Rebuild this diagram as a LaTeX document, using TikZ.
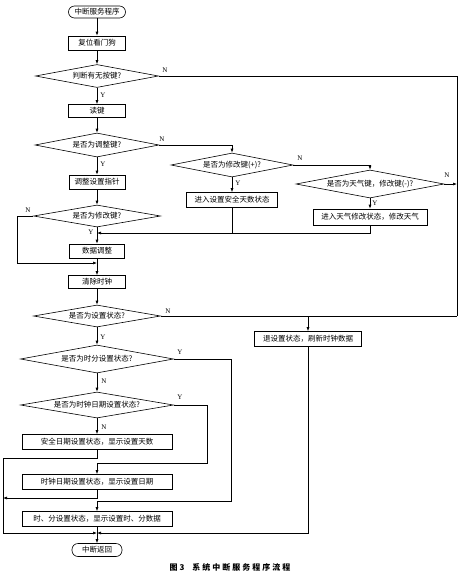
\documentclass[tikz,border=0pt]{standalone}
\usepackage{fontspec}
\setmainfont{Liberation Serif}
\newfontfamily\cjk{Noto Sans CJK SC}
\newfontfamily\capfont{Noto Sans CJK SC}[LetterSpace=25]
\usetikzlibrary{arrows.meta,shapes.geometric}

\begin{document}
\begin{tikzpicture}[x=1pt, y=-1pt, line width=0.6pt, >={Latex[length=4pt,width=3pt]},
	every node/.style={font=\cjk\fontsize{7.5}{9}\selectfont, inner sep=1pt},
	box/.style={draw, rectangle, minimum height=14},
	decide/.style={draw, diamond, aspect=6, inner sep=0pt},
	term/.style={draw, rectangle, rounded corners=6pt, minimum height=12},
	lbl/.style={font=\rmfamily\fontsize{7}{8}\selectfont, inner sep=0pt}]
	\useasboundingbox (0,0) rectangle (460,576);
	% main column
	\node[term, minimum width=57] (start) at (97,12) {中断服务程序};
	\node[box, minimum width=57] (reset) at (97,43) {复位看门狗};
	\node[decide, minimum width=123, minimum height=23] (chk) at (97,76) {判断有无按键?};
	\node[box, minimum width=57, minimum height=13] (read) at (97,111) {读键};
	\node[decide, minimum width=124, minimum height=24] (adj) at (97,145) {是否为调整键?};
	\node[box, minimum width=56] (ptr) at (97,182) {调整设置指针};
	\node[decide, minimum width=127, minimum height=22] (mod) at (97,216) {是否为修改键?};
	\node[box, minimum width=55] (data) at (97,251) {数据调整};
	\node[box, minimum width=57, minimum height=13] (clr) at (97,282) {清除时钟};
	\node[decide, minimum width=127, minimum height=22] (set) at (97,316) {是否为设置状态?};
	\node[decide, minimum width=153, minimum height=28] (hm) at (97,359) {是否为时分设置状态?};
	\node[decide, minimum width=153, minimum height=26] (date) at (97,405) {是否为时钟日期设置状态?};
	\node[box, minimum width=150, minimum height=15] (safe) at (97,442) {安全日期设置状态，显示设置天数};
	\node[box, minimum width=150, minimum height=15] (clock) at (97,482) {时钟日期设置状态，显示设置日期};
	\node[box, minimum width=150, minimum height=15] (hmset) at (97,519) {时、分设置状态，显示设置时、分数据};
	\node[term, minimum width=50, minimum height=13] (ret) at (97,550) {中断返回};
	% right branches
	\node[decide, minimum width=122, minimum height=24] (plus) at (232,165) {是否为修改键(+)?};
	\node[box, minimum width=91, minimum height=15] (safeday) at (232,200) {进入设置安全天数状态};
	\node[decide, minimum width=148, minimum height=28] (wx) at (370,184) {是否为天气键，修改键(-)?};
	\node[box, minimum width=114, minimum height=16] (wxmod) at (370,217) {进入天气修改状态，修改天气};
	\node[box, minimum width=107, minimum height=15] (quit) at (308,339) {退设置状态，刷新时钟数据};
	\node[font=\capfont\bfseries\fontsize{8}{9}\selectfont] (cap) at (230,567) {图3\quad 系统中断服务程序流程};

	% junctions
	\coordinate (rbot) at (457,316);
	\coordinate (j1) at (97,233);
	\coordinate (j2) at (97,263);
	\coordinate (lft1) at (17,263);
	\coordinate (j3) at (231,501);
	\coordinate (j5) at (207,463);
	\coordinate (lft2) at (3,458);
	\coordinate (lft3) at (3,533);
	\coordinate (lft4) at (3,498);
	\coordinate (j4) at (97,533);

	% connectors
	\draw[->] (start) -- (reset);
	\draw[->] (reset) -- (chk);
	\draw[->] (chk) -- (read);
	\draw[->] (read) -- (adj);
	\draw[->] (adj) -- (ptr);
	\draw[->] (ptr) -- (mod);
	\draw[->] (mod) -- (data);
	\draw[->] (data) -- (clr);
	\draw[->] (clr) -- (set);
	\draw[->] (set) -- (hm);
	\draw[->] (hm) -- (date);
	\draw[->] (date) -- (safe);
	\draw[->] (hmset) -- (ret);
	\draw (chk.east) -| (rbot);
	\draw (set.east) -- (rbot);
	\draw[->] (quit.north |- rbot) -- (quit.north);
	\draw[->] (adj.east) -| (plus.north);
	\draw[->] (plus.east) -| (wx.north);
	\draw[->] (plus) -- (safeday);
	\draw[->] (wx) -- (wxmod);
	\draw[->] (wx.east) -- (wx.east -| rbot);
	\draw[->] (safeday.south) |- (j1);
	\draw (wxmod.south) |- (safeday.south |- j1);
	\draw[->] (mod.west) -| (lft1) -- (j2);
	\draw[->] (hm.east) -| (j3) -| (hmset.north);
	\draw[->] (date.east) -| (j5) -| (clock.north);
	\draw (safe.south) |- (lft2) -- (lft3);
	\draw[->] (lft3) -- (j4);
	\draw[->] (clock.south) |- (lft4);
	\draw[->] (quit.south) |- (j4);

	% Y/N labels
	\node[lbl] (n1) at (165,70) {N};
	\node[lbl] (y1) at (103,95) {Y};
	\node[lbl] (n2) at (162,139) {N};
	\node[lbl] (y2) at (103,164) {Y};
	\node[lbl] (n3) at (28,210) {N};
	\node[lbl] (y3) at (91,232) {Y};
	\node[lbl] (n4) at (168,311) {N};
	\node[lbl] (y4) at (103,337) {Y};
	\node[lbl] (y5) at (180,352) {Y};
	\node[lbl] (n5) at (104,381) {N};
	\node[lbl] (y6) at (180,397) {Y};
	\node[lbl] (n6) at (104,427) {N};
	\node[lbl] (n7) at (300,158) {N};
	\node[lbl] (y7) at (238,183) {Y};
	\node[lbl] (n8) at (447,175) {N};
	\node[lbl] (y8) at (375,203) {Y};
\end{tikzpicture}
\end{document}
